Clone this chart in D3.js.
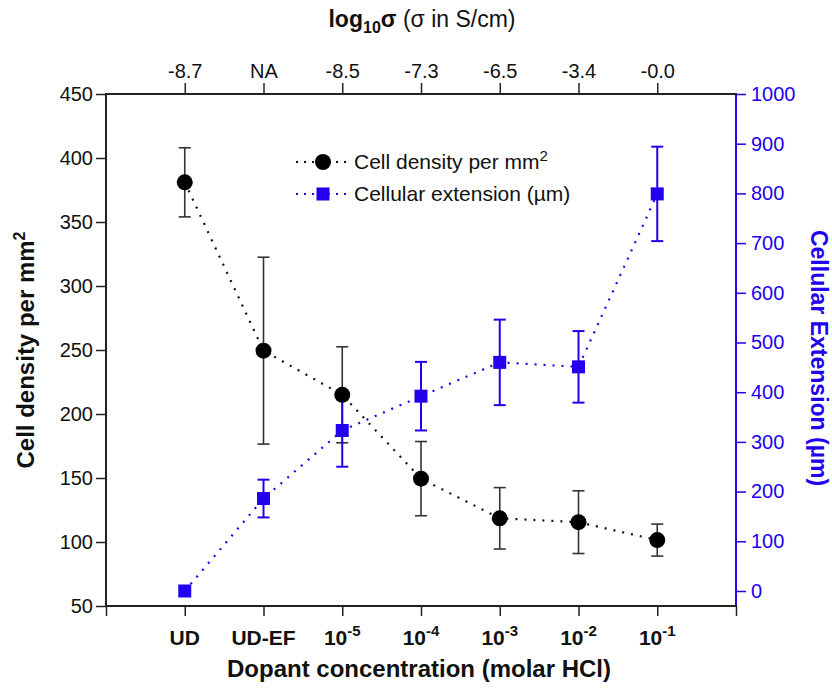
<!DOCTYPE html>
<html><head><meta charset="utf-8">
<script src="https://cdn.jsdelivr.net/npm/d3@7"></script>
<style>body{margin:0;background:#fff;} text{font-family:"Liberation Sans",Arial,sans-serif;}</style>
</head><body>
<svg id="c" width="832" height="688"></svg>
<script>
const categories = ["UD","UD-EF","10^-5","10^-4","10^-3","10^-2","10^-1"];
const topLabels = ["-8.7","NA","-8.5","-7.3","-6.5","-3.4","-0.0"];
const density = [381,249.5,215,149.5,118.5,115.5,101.5];
const densityErr = [27,73,37.5,29,24,24.5,12.5];
const extension = [0,186,323,392,460,451,799];
const extensionErr = [0,38,73,69,86,72,95];
const leftTicks = [50,100,150,200,250,300,350,400,450];
const rightTicks = [0,100,200,300,400,500,600,700,800,900,1000];

const blue = "#2200ee";
const FS = "20px";
const svg = d3.select("#c");
const L=106,R=736,T=94,B=606;
const x = d3.scaleLinear().domain([-1,7]).range([L,R]);
const yL = d3.scaleLinear().domain([50,450]).range([B,T]);
const yR = d3.scaleLinear().domain([-30.2,1000]).range([B,T]);
const idx = categories.map((d,i)=>i);

// axes
const axL = d3.axisLeft(yL).tickValues(leftTicks).tickSize(10).tickPadding(3).tickSizeOuter(0).tickFormat(d3.format("d"));
const gL = svg.append("g").attr("transform",`translate(${L},0)`).call(axL);
const axR = d3.axisRight(yR).tickValues(rightTicks).tickSize(10).tickPadding(5).tickSizeOuter(0).tickFormat(d3.format("d"));
const gR = svg.append("g").attr("transform",`translate(${R},0)`).call(axR);
const axB = d3.axisBottom(x).tickValues([-1,...idx,7]).tickSize(10).tickFormat("").tickSizeOuter(0);
const gB = svg.append("g").attr("transform",`translate(0,${B})`).call(axB);
const axT = d3.axisTop(x).tickValues(idx).tickSize(11).tickFormat((d,i)=>topLabels[i]).tickPadding(5).tickSizeOuter(0);
const gT = svg.append("g").attr("transform",`translate(0,${T})`).call(axT);

[gL,gB,gT].forEach(g=>{
  g.selectAll("path").attr("stroke","#222").attr("stroke-width",2);
  g.selectAll("line").attr("stroke","#222").attr("stroke-width",1.5);
  g.selectAll("text").attr("fill","#111").style("font-size",FS);
});
gL.select("path").attr("d",`M0,${B+1}V${T-1}`);
gB.select("path").attr("d",`M${L-1},0H${R+1}`);
gT.select("path").attr("d",`M${L-1},0H${R+1}`);
gR.selectAll("path").attr("stroke",blue).attr("stroke-width",2).attr("d",`M0,${B+1}V${T-1}`);
gR.selectAll("line").attr("stroke",blue).attr("stroke-width",1.5);
gR.selectAll("text").attr("fill",blue).style("font-size",FS);

// bottom category labels
const bl = svg.append("g");
categories.forEach((c,i)=>{
  const t = bl.append("text").attr("x",x(i)).attr("y",645).attr("text-anchor","middle")
    .style("font-size","21px").style("font-weight","bold").attr("fill","#111");
  if(c.startsWith("10^")){
    t.append("tspan").text("10");
    t.append("tspan").text(c.slice(3)).attr("dy",-9).style("font-size","15px");
  } else t.text(c);
});

// titles
const tt = svg.append("text").attr("x",422).attr("y",27).attr("text-anchor","middle")
  .style("font-size","23px").style("font-weight","bold").attr("fill","#111");
tt.append("tspan").text("log");
tt.append("tspan").text("10").attr("dy",6).style("font-size","16px");
tt.append("tspan").text("σ").attr("dy",-6);
tt.append("tspan").text(" (σ in S/cm)").style("font-weight","normal");

svg.append("text").attr("x",419).attr("y",677).attr("text-anchor","middle")
  .style("font-size","24px").style("font-weight","bold").attr("fill","#111")
  .text("Dopant concentration (molar HCl)");

const lt = svg.append("text").attr("transform","translate(34,350) rotate(-90)").attr("text-anchor","middle")
  .style("font-size","24px").style("font-weight","bold").attr("fill","#111");
lt.append("tspan").text("Cell density per mm");
lt.append("tspan").text("2").attr("dy",-9).style("font-size","16px");

svg.append("text").attr("transform","translate(811,358) rotate(90)").attr("text-anchor","middle")
  .style("font-size","23px").style("font-weight","bold").attr("fill",blue)
  .text("Cellular Extension (µm)");

// lines
const lineL = d3.line().x((d,i)=>x(i)).y(d=>yL(d));
const lineR = d3.line().x((d,i)=>x(i)).y(d=>yR(d));
svg.append("path").attr("d",lineR(extension)).attr("fill","none").attr("stroke",blue)
  .attr("stroke-width",2.2).attr("stroke-dasharray","2,7");
svg.append("path").attr("d",lineL(density)).attr("fill","none").attr("stroke","#111")
  .attr("stroke-width",2.2).attr("stroke-dasharray","2,7");

// error bars density
const eL = svg.append("g").attr("stroke","#333").attr("stroke-width",1.6);
density.forEach((v,i)=>{
  if(!densityErr[i]) return;
  const y1=yL(v+densityErr[i]), y2=yL(v-densityErr[i]), cx=x(i);
  eL.append("line").attr("x1",cx).attr("x2",cx).attr("y1",y1).attr("y2",y2);
  eL.append("line").attr("x1",cx-6).attr("x2",cx+6).attr("y1",y1).attr("y2",y1);
  eL.append("line").attr("x1",cx-6).attr("x2",cx+6).attr("y1",y2).attr("y2",y2);
});
// error bars extension
const eR = svg.append("g").attr("stroke",blue).attr("stroke-width",2);
extension.forEach((v,i)=>{
  if(!extensionErr[i]) return;
  const y1=yR(v+extensionErr[i]), y2=yR(v-extensionErr[i]), cx=x(i);
  eR.append("line").attr("x1",cx).attr("x2",cx).attr("y1",y1).attr("y2",y2);
  eR.append("line").attr("x1",cx-6).attr("x2",cx+6).attr("y1",y1).attr("y2",y1);
  eR.append("line").attr("x1",cx-6).attr("x2",cx+6).attr("y1",y2).attr("y2",y2);
});

// markers
svg.append("g").selectAll("rect").data(extension).join("rect")
  .attr("x",(d,i)=>x(i)-6.5).attr("y",d=>yR(d)-6.5).attr("width",13).attr("height",13).attr("fill",blue);
svg.append("g").selectAll("circle").data(density).join("circle")
  .attr("cx",(d,i)=>x(i)).attr("cy",d=>yL(d)).attr("r",8).attr("fill","#000");

// legend
const lg = svg.append("g");
lg.append("line").attr("x1",296).attr("x2",350).attr("y1",162).attr("y2",162).attr("stroke","#111")
  .attr("stroke-width",2).attr("stroke-dasharray","2,6");
lg.append("circle").attr("cx",323).attr("cy",162).attr("r",8).attr("fill","#000");
const l1 = lg.append("text").attr("x",354).attr("y",169).style("font-size","21px").attr("fill","#111");
l1.append("tspan").text("Cell density per mm");
l1.append("tspan").text("2").attr("dy",-8).style("font-size","15px");
lg.append("line").attr("x1",296).attr("x2",350).attr("y1",194).attr("y2",194).attr("stroke",blue)
  .attr("stroke-width",2).attr("stroke-dasharray","2,6");
lg.append("rect").attr("x",316.5).attr("y",187.5).attr("width",13).attr("height",13).attr("fill",blue);
lg.append("text").attr("x",354).attr("y",201).style("font-size","21px").attr("fill","#111").text("Cellular extension (µm)");
</script>
</body></html>
